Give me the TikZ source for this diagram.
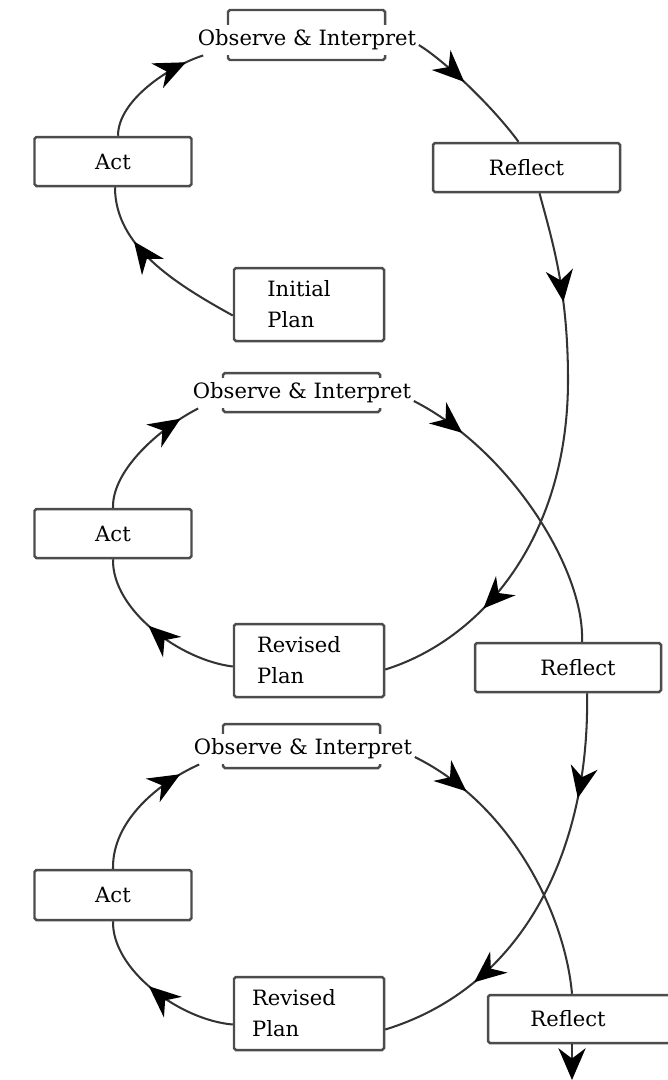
\documentclass[tikz,border=0pt]{standalone}
\usepackage{fontspec}
\setmainfont{DejaVu Serif}
\usetikzlibrary{arrows.meta,calc,decorations.markings}
\newlength{\pxl}\setlength{\pxl}{0.0155cm}
\tikzset{
  box/.style={draw=black!70,line width=1.1pt,rounded corners=0.8pt,fill=white,inner sep=0pt,align=left},
  obsbox/.style={draw=black!70,line width=1.1pt,rounded corners=0.8pt,inner sep=0pt},
  obstext/.style={fill=white,inner xsep=1pt,inner ysep=0pt,minimum height=30\pxl},
  flow/.style={draw=black!80,line width=0.9pt},
  bigtip/.tip={Stealth[length=14pt,width=12pt,inset=4.5pt,color=black]},
  tipat/.style={postaction={decorate},decoration={markings,
    mark=at position #1 with {\arrow{bigtip}}}},
  tipsat/.style 2 args={postaction={decorate},decoration={markings,
    mark=at position #1 with {\arrow{bigtip}},
    mark=at position #2 with {\arrow{bigtip}}}}
}

\begin{document}
\begin{tikzpicture}[x=0.0155cm,y=-0.0155cm,font=\fontsize{9.3}{13.6}\selectfont]
\useasboundingbox (0,0) rectangle (667,1080);
% first cycle
\node[obsbox,minimum width=157\pxl,minimum height=50\pxl] (obsboxA) at (306.5,35) {};
\node[obstext] (obsA) at (307,40) {Observe \& Interpret};
\node[box,minimum width=157\pxl,minimum height=49\pxl] (actA) at (113,161.5) {Act};
\node[box,minimum width=187\pxl,minimum height=49\pxl] (reflA) at (526.5,167.5) {Reflect};
\node[box,minimum width=150\pxl,minimum height=73\pxl] (planA) at (309,304.5) {Initial\hspace*{20\pxl}\\Plan};
% second cycle
\node[obsbox,minimum width=157\pxl,minimum height=39\pxl] (obsboxB) at (301.5,392.5) {};
\node[obstext] (obsB) at (302,393) {Observe \& Interpret};
\node[box,minimum width=157\pxl,minimum height=49\pxl] (actB) at (113,533.5) {Act};
\node[box,minimum width=150\pxl,minimum height=73\pxl] (planB) at (309,660.5) {Revised\hspace*{20\pxl}\\Plan};
\node[box,minimum width=186\pxl,minimum height=49\pxl] (reflB) at (568,667.5) {\hspace*{20\pxl}Reflect};
% third cycle
\node[obsbox,minimum width=157\pxl,minimum height=44\pxl] (obsboxC) at (301.5,746) {};
\node[obstext] (obsC) at (303,749) {Observe \& Interpret};
\node[box,minimum width=157\pxl,minimum height=50\pxl] (actC) at (113,895) {Act};
\node[box,minimum width=150\pxl,minimum height=73\pxl] (planC) at (309,1013.5) {Revised\hspace*{30\pxl}\\Plan};
\node[box,minimum width=192\pxl,minimum height=48\pxl] (reflC) at (584,1019) {Reflect\hspace*{32\pxl}};
\coordinate (out) at (572,1080);

\draw[flow,tipat=0.68] ($(planA.west)+(0,11)$) .. controls (174,283) and (115,246) .. ($(actA.south)+(2,0)$);
\draw[flow,tipat=0.85] ($(actA.north)+(5,0)$) .. controls (118,100) and (170,66) .. ($(obsA.south west)+(8,0)$);
\draw[flow,tipat=0.42] ($(obsA.east)+(0,5)$) .. controls (445,61) and (493,107) .. ($(reflA.north)+(-8,0)$);
\draw[flow,tipsat={0.2}{0.79}] ($(reflA.south)+(13,0)$) .. controls (552,240) and (568,290) .. (568,380)
  .. controls (568,540) and (480,640) .. ($(planB.east)+(0,9)$);

\draw[flow,tipat=0.55] ($(planB.west)+(0,6)$) .. controls (180,660) and (112,610) .. (actB.south);
\draw[flow,tipat=0.85] (actB.north) .. controls (112,470) and (160,428) .. ($(obsB.south west)+(8,0)$);
\draw[flow,tipat=0.19] ($(obsB.east)+(0,8)$) .. controls (510,450) and (585,570) .. ($(reflB.north)+(14,0)$);
\draw[flow,tipsat={0.25}{0.76}] ($(reflB.south)+(19,0)$) .. controls (590,840) and (530,985) .. ($(planC.east)+(0,16)$);

\draw[flow,tipat=0.55] ($(planC.west)+(0,11)$) .. controls (180,1020) and (112,970) .. (actC.south);
\draw[flow,tipat=0.85] (actC.north) .. controls (112,820) and (160,782) .. ($(obsC.south west)+(8,0)$);
\draw[flow,tipat=0.21] ($(obsC.east)+(0,8)$) .. controls (512,805) and (565,915) .. ($(reflC.north)+(-12,0)$);
\draw[flow,-bigtip] ($(reflC.south)+(-12,0)$) -- (out);
\end{tikzpicture}
\end{document}
